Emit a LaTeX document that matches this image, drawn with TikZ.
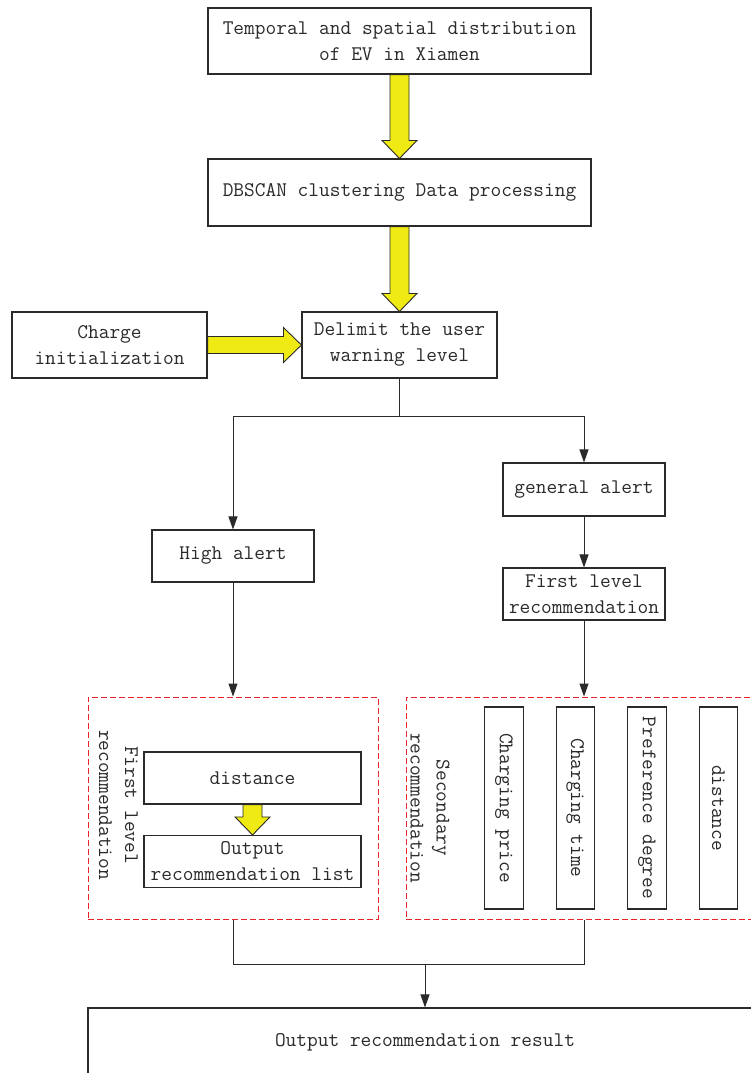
\documentclass[tikz,border=0pt]{standalone}
\usepackage{fontspec}
\usetikzlibrary{arrows.meta,calc}
\definecolor{ylw}{HTML}{F0EA14}
\definecolor{dred}{HTML}{E8262A}
\definecolor{ink}{HTML}{2A2A2A}
\newcommand\yarrowV[2]{\draw[yarrow] let \p1=(#1), \p2=(#2) in
  (\x1-9.5pt,\y1) -- (\x1-9.5pt,\y2+18pt) -- (\x1-17.5pt,\y2+18pt) -- (\x1,\y2)
  -- (\x1+17.5pt,\y2+18pt) -- (\x1+9.5pt,\y2+18pt) -- (\x1+9.5pt,\y1) -- cycle;}
\newcommand\yarrowH[2]{\draw[yarrow] let \p1=(#1), \p2=(#2) in
  (\x1,\y1+8.5pt) -- (\x2-18pt,\y1+8.5pt) -- (\x2-18pt,\y1+17.5pt) -- (\x2,\y1)
  -- (\x2-18pt,\y1-17.5pt) -- (\x2-18pt,\y1-8.5pt) -- (\x1,\y1-8.5pt) -- cycle;}
\begin{document}
\begin{tikzpicture}[x=1pt,y=-1pt,
  every node/.style={font=\ttfamily\fontsize{20.8}{26}\selectfont, text=ink, inner sep=0pt},
  box/.style={draw=ink, line width=1.1pt, align=center},
  dbox/.style={draw=dred, line width=1pt, dash pattern=on 6pt off 3pt},
  yarrow/.style={draw=ink, line width=0.9pt, fill=ylw},
  conn/.style={draw=ink, line width=1pt},
  arr/.style={conn, -{Triangle[length=13pt,width=9pt]}}]
\useasboundingbox (0,0) rectangle (751,1073);
\clip (0,0) rectangle (751,1073);

\node[box, minimum width=383pt, minimum height=66pt] (b1) at (399.5,41) {Temporal and spatial distribution\\of EV in Xiamen};
\node[box, minimum width=383pt, minimum height=67pt] (b2) at (399.5,192.5) {DBSCAN clustering Data processing};
\node[box, minimum width=195pt, minimum height=66pt] (b3) at (399.5,345) {Delimit the user\\warning level};
\node[box, minimum width=195pt, minimum height=66pt] (ci) at (109.5,345) {Charge\\initialization};
\node[box, minimum width=162pt, minimum height=52pt] (high) at (233,556) {High alert};
\node[box, minimum width=162pt, minimum height=53pt] (gen) at (584,489.5) {general alert};
\node[box, minimum width=162pt, minimum height=52pt] (fl) at (584,594) {First level\\recommendation};

\node[dbox, minimum width=290pt, minimum height=222pt] (d1) at (233,808) {};
\node[dbox, minimum width=358pt, minimum height=222pt] (d2) at (585,808) {};

\node[align=center, rotate=-90] (l1) at (118.5,805) {First level\\recommendation};
\node[box, minimum width=217pt, minimum height=52pt] (dist1) at (252.5,778) {distance};
\node[box, minimum width=217pt, minimum height=52pt] (out1) at (252.5,861.5) {Output\\recommendation list};

\node[align=center, rotate=-90] (l2) at (430,808) {Secondary\\recommendation};
\node[box, rotate=-90, minimum width=202pt, minimum height=38.5pt] (v1) at (504,808) {Charging price};
\node[box, rotate=-90, minimum width=202pt, minimum height=38.5pt] (v2) at (575.3,808) {Charging time};
\node[box, rotate=-90, minimum width=202pt, minimum height=38.5pt] (v3) at (646.8,808) {Preference degree};
\node[box, rotate=-90, minimum width=202pt, minimum height=38.5pt] (v4) at (718.5,808) {distance};

\node[box, minimum width=674pt, minimum height=68pt] (fin) at (425,1042) {Output recommendation result};

\yarrowV{b1.south}{b2.north}
\yarrowV{b2.south}{b3.north}
\yarrowH{ci.east}{b3.west}
\yarrowV{dist1.south}{out1.north}

\coordinate (split) at (399.5,416.5);
\draw[conn] (b3.south) -- (split);
\draw[arr] (split) -| (high.north);
\draw[arr] (split) -| (gen.north);
\draw[arr] (gen.south) -- (fl.north);
\draw[arr] (high.south) -- (high.south |- d1.north);
\draw[arr] (fl.south) -- (fl.south |- d2.north);

\coordinate (merge) at (425,964);
\draw[conn] (d1.south) |- (merge) -| (fl.south |- d2.south);
\draw[arr] (merge) -- (fin.north);
\end{tikzpicture}
\end{document}
